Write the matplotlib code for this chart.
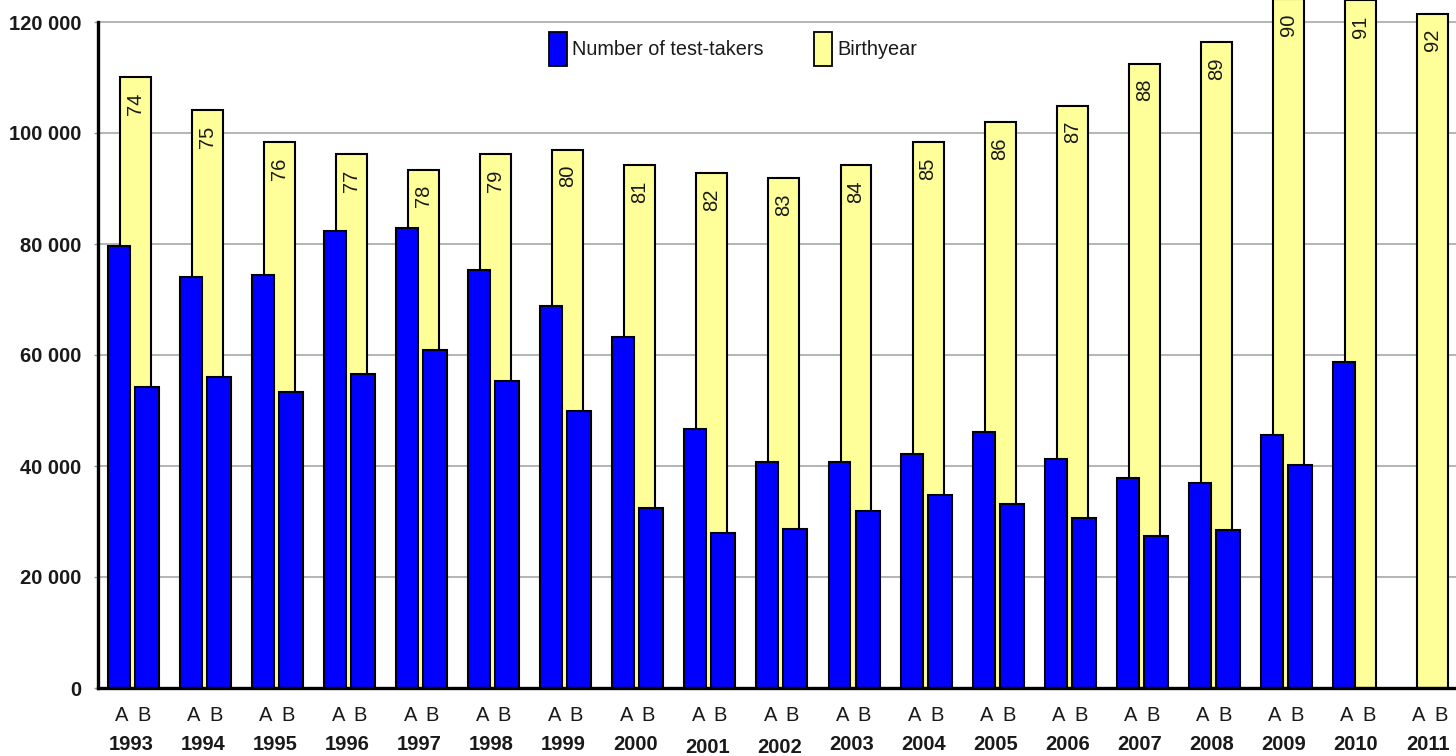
import numpy as np
import matplotlib
matplotlib.use("Agg")
import matplotlib.pyplot as plt
from matplotlib.patches import Patch
from matplotlib.ticker import FuncFormatter

plt.rcParams['font.family'] = ['Liberation Sans', 'DejaVu Sans']

years = list(range(1993, 2012))
birthyears = [str(y)[2:] for y in range(1974, 1993)]
nan = np.nan
# birth cohort size (yellow), test-takers A and B (blue)
cohort = [110100, 104100, 98400, 96200, 93400, 96200, 97000, 94200, 92800, 91900,
          94200, 98400, 102000, 104900, 112500, 116400, 124200, 123900, 121500]
takers_a = [79700, 74100, 74400, 82400, 82800, 75400, 68800, 63200, 46700, 40700,
            40700, 42100, 46100, 41300, 37900, 36900, 45500, 58800, nan]
takers_b = [54300, 56000, 53250, 56500, 60900, 55400, 50000, 32500, 27900, 28700,
            31900, 34700, 33100, 30600, 27400, 28500, 40200, nan, nan]

blue = '#0000ff'
yellow = '#ffff99'
txt = '#1a1a1a'

fig = plt.figure(figsize=(14.56, 7.56), dpi=100)
ax = fig.add_axes([98 / 1456, 68 / 756, 1 - 98 / 1456, 688 / 756])

x = np.array(years, dtype=float)
ax.bar(x + 0.062, cohort, width=0.43, color=yellow, edgecolor='black', linewidth=1.5, zorder=2)
ax.bar(x - 0.167, takers_a, width=0.305, color=blue, edgecolor='black', linewidth=1.5, zorder=3)
ax.bar(x + 0.222, takers_b, width=0.333, color=blue, edgecolor='black', linewidth=1.5, zorder=3)

for xi, v, lab in zip(x, cohort, birthyears):
    ax.annotate(lab, xy=(xi + 0.062, v), xytext=(0, -11), textcoords='offset points',
                rotation=90, ha='center', va='top', fontsize=14.5, color=txt,
                annotation_clip=False, zorder=4)

for xi, yr in zip(x, years):
    ax.annotate('A', xy=(xi - 0.125, 0), xycoords=('data', 'axes fraction'),
                xytext=(0, -19.5), textcoords='offset points', ha='center', va='center',
                fontsize=14.5, color=txt, annotation_clip=False)
    ax.annotate('B', xy=(xi + 0.18, 0), xycoords=('data', 'axes fraction'),
                xytext=(0, -19.5), textcoords='offset points', ha='center', va='center',
                fontsize=14.5, color=txt, annotation_clip=False)
    dy = -43 if yr in (2001, 2002) else -41
    ax.annotate(str(yr), xy=(xi, 0), xycoords=('data', 'axes fraction'),
                xytext=(0, dy), textcoords='offset points', ha='center', va='center',
                fontsize=14.5, fontweight='bold', color=txt, annotation_clip=False)

ax.set_xlim(1992.542, 2011.389)
ax.set_ylim(0, 120000 * 688 / 666)
ax.set_yticks(range(0, 120001, 20000))
ax.yaxis.set_major_formatter(FuncFormatter(lambda v, p: f'{int(v):,}'.replace(',', ' ')))
ax.set_xticks([])
ax.tick_params(axis='y', length=3, width=1, color='#999999', pad=9, labelsize=14.5)
for t in ax.get_yticklabels():
    t.set_fontweight('bold')
    t.set_color(txt)

ax.yaxis.grid(True, color='#a0a0a0', linewidth=1.1, zorder=0)
ax.set_axisbelow(True)
for s in ['top', 'right']:
    ax.spines[s].set_visible(False)
ax.spines['left'].set_linewidth(2.4)
ax.spines['left'].set_bounds(0, 120000)
ax.spines['bottom'].set_linewidth(2.4)
ax.spines['left'].set_zorder(5)
ax.spines['bottom'].set_zorder(5)

handles = [Patch(facecolor=blue, edgecolor='black', linewidth=1.3, label='Number of test-takers'),
           Patch(facecolor=yellow, edgecolor='black', linewidth=1.3, label='Birthyear')]
leg = ax.legend(handles=handles, ncol=2, frameon=False, fontsize=14.3,
                loc='center', bbox_to_anchor=(733 / 1456, 1 - 49 / 756),
                bbox_transform=fig.transFigure, handlelength=0.9, handleheight=2.3,
                handletextpad=0.3, columnspacing=2.5)
for t in leg.get_texts():
    t.set_color(txt)

fig.savefig('out.png', dpi=100)
